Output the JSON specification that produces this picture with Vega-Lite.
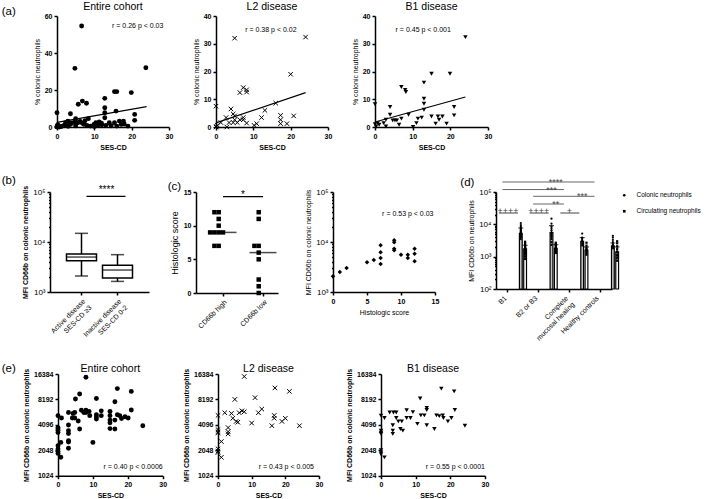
{
 "$schema": "https://vega.github.io/schema/vega-lite/v6.json",
 "padding": {"left": 1, "top": 2, "right": 5, "bottom": 5},
 "autosize": {"type": "pad"},
 "config": {
  "font": "Liberation Sans",
  "view": {"stroke": null},
  "axis": {"grid": false, "domainColor": "black", "domainWidth": 1.5, "tickColor": "black", "tickWidth": 1.5, "tickSize": 3, "tickCount": 40, "labelFontSize": 7, "labelFontWeight": "bold", "labelColor": "black", "labelPadding": 2, "labelOverlap": false, "labelFlush": false, "titleFontSize": 7, "titleFontWeight": "bold", "titleColor": "black", "titlePadding": 4},
  "title": {"fontSize": 10.5, "fontWeight": "normal", "color": "black", "baseline": "alphabetic", "offset": 8, "frame": "group"},
  "legend": {"title": null, "labelFontSize": 6.5, "labelColor": "black", "symbolSize": 7, "symbolFillColor": "black", "symbolStrokeColor": "black", "rowPadding": 6, "offset": 9, "padding": 0, "labelOffset": 9}
 },
 "datasets": {
  "a_all": [{"x":0,"y":7.7},{"x":0,"y":0},{"x":0.3,"y":0.9},{"x":0.6,"y":0},{"x":1.4,"y":0.5},{"x":0,"y":0.3},{"x":0.2,"y":1.2},{"x":1,"y":0.2},{"x":2,"y":1},{"x":2.3,"y":2.3},{"x":2.9,"y":3.2},{"x":3,"y":0.4},{"x":3,"y":2.9},{"x":3.6,"y":7.2},{"x":3.6,"y":1.5},{"x":4,"y":2.2},{"x":4.8,"y":2.7},{"x":5,"y":0.6},{"x":5,"y":4.5},{"x":5.4,"y":2.2},{"x":6,"y":2.7},{"x":6.2,"y":3},{"x":6.8,"y":2},{"x":7.2,"y":1.5},{"x":7.5,"y":3.4},{"x":4.8,"y":31.7},{"x":6.6,"y":54.6},{"x":5.7,"y":12.3},{"x":6.8,"y":14},{"x":7.9,"y":12.8},{"x":8,"y":0.8},{"x":8.4,"y":4.5},{"x":9,"y":0.5},{"x":9.9,"y":1.4},{"x":10,"y":0.3},{"x":10.4,"y":2.3},{"x":11,"y":0.9},{"x":11.3,"y":2.7},{"x":11.9,"y":2},{"x":12,"y":1.2},{"x":12.8,"y":15.5},{"x":12.8,"y":10.4},{"x":12.8,"y":7.7},{"x":12.8,"y":5},{"x":13.1,"y":0.9},{"x":14,"y":2.3},{"x":14.5,"y":0.7},{"x":15.4,"y":19.1},{"x":16,"y":19.1},{"x":15.8,"y":8.6},{"x":15.4,"y":2.3},{"x":16,"y":0.5},{"x":16.7,"y":3.2},{"x":17.8,"y":3.2},{"x":17.2,"y":1.4},{"x":18,"y":1.6},{"x":19,"y":0.5},{"x":19.9,"y":18.6},{"x":20.8,"y":6.8},{"x":20.8,"y":3.6},{"x":23.8,"y":32}],
  "a_l2": [{"x":0,"y":7.5},{"x":0,"y":0},{"x":0.4,"y":0.6},{"x":0.2,"y":0.2},{"x":1.3,"y":1.6},{"x":2.7,"y":3.4},{"x":2.9,"y":0},{"x":3.5,"y":1.6},{"x":4,"y":6.5},{"x":4.6,"y":4.7},{"x":4.6,"y":1.6},{"x":5.7,"y":1.6},{"x":5,"y":32},{"x":24,"y":32.4},{"x":20,"y":19},{"x":7.3,"y":14.2},{"x":8.2,"y":13.4},{"x":8.2,"y":12.6},{"x":6.4,"y":12.4},{"x":16,"y":8.6},{"x":13.1,"y":6},{"x":5,"y":4},{"x":17.3,"y":4.2},{"x":17.3,"y":2.6},{"x":17.3,"y":1.2},{"x":20.8,"y":4},{"x":19,"y":1.2},{"x":12.2,"y":3.4},{"x":10.2,"y":0.6},{"x":10.9,"y":1.2},{"x":7.3,"y":3.4},{"x":7.3,"y":2.6},{"x":8.2,"y":1.4},{"x":5,"y":2.6},{"x":6.4,"y":2.6}],
  "a_b1": [{"x":0,"y":8.2},{"x":0,"y":1},{"x":0.3,"y":0.2},{"x":0.7,"y":1.4},{"x":1.1,"y":0.8},{"x":2.9,"y":2.6},{"x":2.3,"y":1.4},{"x":4,"y":4.4},{"x":4,"y":7.2},{"x":2.9,"y":0.2},{"x":4.7,"y":2.4},{"x":5.3,"y":2.4},{"x":5.8,"y":2.4},{"x":6.4,"y":0.8},{"x":7,"y":3},{"x":7,"y":14.4},{"x":8,"y":13.4},{"x":8.2,"y":12.6},{"x":8.9,"y":4.4},{"x":10.1,"y":0},{"x":11,"y":1.4},{"x":11.4,"y":3},{"x":12.4,"y":3.4},{"x":13,"y":16},{"x":13,"y":10.2},{"x":13,"y":8.4},{"x":13,"y":6.2},{"x":15,"y":19.2},{"x":15,"y":3.8},{"x":16.1,"y":1.2},{"x":16.7,"y":3.8},{"x":17.9,"y":3.8},{"x":17,"y":2.6},{"x":19,"y":1.2},{"x":19.9,"y":19.2},{"x":21,"y":7.2},{"x":21,"y":4.2},{"x":24,"y":32.4}],
  "b_box": [{"grp":"Active disease|SES-CD ≥3","min":2090,"q1":4230,"med":5000,"q3":5750,"max":14900},{"grp":"Inactive disease|SES-CD 0-2","min":1630,"q1":1900,"med":2750,"q3":3410,"max":5580}],
  "c_hist": [{"grp":"CD66b high","score":12},{"grp":"CD66b high","score":12},{"grp":"CD66b high","score":11},{"grp":"CD66b high","score":10},{"grp":"CD66b high","score":9},{"grp":"CD66b high","score":9},{"grp":"CD66b high","score":9},{"grp":"CD66b high","score":9},{"grp":"CD66b high","score":7},{"grp":"CD66b high","score":7},{"grp":"CD66b low","score":12},{"grp":"CD66b low","score":11},{"grp":"CD66b low","score":7},{"grp":"CD66b low","score":7},{"grp":"CD66b low","score":6},{"grp":"CD66b low","score":5},{"grp":"CD66b low","score":2},{"grp":"CD66b low","score":1},{"grp":"CD66b low","score":0}],
  "c_med": [{"grp":"CD66b high","median":9},{"grp":"CD66b low","median":6}],
  "c_mfi": [{"h":0,"m":2060},{"h":1,"m":2510},{"h":2,"m":3020},{"h":5,"m":3920},{"h":6,"m":4360},{"h":7,"m":8580},{"h":7,"m":6210},{"h":7,"m":4790},{"h":7,"m":3630},{"h":9,"m":10800},{"h":9,"m":9850},{"h":9,"m":7360},{"h":9,"m":6810},{"h":10,"m":5580},{"h":11,"m":5580},{"h":11,"m":4790},{"h":12,"m":7360},{"h":12,"m":5840},{"h":12,"m":4100}],
  "d_bars": [{"grp":"B1","type":"Colonic neutrophils","mean":5300,"lo":3900,"hi":7700},{"grp":"B1","type":"Circulating neutrophils","mean":1750,"lo":1300,"hi":2250},{"grp":"B2 or B3","type":"Colonic neutrophils","mean":5600,"lo":3600,"hi":9100},{"grp":"B2 or B3","type":"Circulating neutrophils","mean":1800,"lo":1400,"hi":2350},{"grp":"Complete mucosal healing","type":"Colonic neutrophils","mean":3000,"lo":2300,"hi":3900},{"grp":"Complete mucosal healing","type":"Circulating neutrophils","mean":1600,"lo":1250,"hi":2000},{"grp":"Healthy controls","type":"Colonic neutrophils","mean":2150,"lo":1800,"hi":2650},{"grp":"Healthy controls","type":"Circulating neutrophils","mean":1400,"lo":950,"hi":2000}],
  "d_dots": [
   {"grp":"B1","type":"Colonic neutrophils","v":11000},{"grp":"B1","type":"Colonic neutrophils","v":9500},{"grp":"B1","type":"Colonic neutrophils","v":8700},{"grp":"B1","type":"Colonic neutrophils","v":7800},{"grp":"B1","type":"Colonic neutrophils","v":7200},{"grp":"B1","type":"Colonic neutrophils","v":6700},{"grp":"B1","type":"Colonic neutrophils","v":6300},{"grp":"B1","type":"Colonic neutrophils","v":6000},{"grp":"B1","type":"Colonic neutrophils","v":5700},{"grp":"B1","type":"Colonic neutrophils","v":5500},{"grp":"B1","type":"Colonic neutrophils","v":5100},{"grp":"B1","type":"Colonic neutrophils","v":4700},{"grp":"B1","type":"Colonic neutrophils","v":4300},{"grp":"B1","type":"Colonic neutrophils","v":3900},{"grp":"B1","type":"Colonic neutrophils","v":3500},
   {"grp":"B1","type":"Circulating neutrophils","v":2900},{"grp":"B1","type":"Circulating neutrophils","v":2600},{"grp":"B1","type":"Circulating neutrophils","v":2300},{"grp":"B1","type":"Circulating neutrophils","v":2100},{"grp":"B1","type":"Circulating neutrophils","v":1950},{"grp":"B1","type":"Circulating neutrophils","v":1800},{"grp":"B1","type":"Circulating neutrophils","v":1700},{"grp":"B1","type":"Circulating neutrophils","v":1600},{"grp":"B1","type":"Circulating neutrophils","v":1500},{"grp":"B1","type":"Circulating neutrophils","v":1400},{"grp":"B1","type":"Circulating neutrophils","v":1300},{"grp":"B1","type":"Circulating neutrophils","v":1150},{"grp":"B1","type":"Circulating neutrophils","v":1000},{"grp":"B1","type":"Circulating neutrophils","v":850},
   {"grp":"B2 or B3","type":"Colonic neutrophils","v":15000},{"grp":"B2 or B3","type":"Colonic neutrophils","v":10500},{"grp":"B2 or B3","type":"Colonic neutrophils","v":8500},{"grp":"B2 or B3","type":"Colonic neutrophils","v":7500},{"grp":"B2 or B3","type":"Colonic neutrophils","v":6500},{"grp":"B2 or B3","type":"Colonic neutrophils","v":5500},{"grp":"B2 or B3","type":"Colonic neutrophils","v":4800},{"grp":"B2 or B3","type":"Colonic neutrophils","v":4200},{"grp":"B2 or B3","type":"Colonic neutrophils","v":3500},{"grp":"B2 or B3","type":"Colonic neutrophils","v":2800},{"grp":"B2 or B3","type":"Colonic neutrophils","v":2300},
   {"grp":"B2 or B3","type":"Circulating neutrophils","v":2700},{"grp":"B2 or B3","type":"Circulating neutrophils","v":2500},{"grp":"B2 or B3","type":"Circulating neutrophils","v":2300},{"grp":"B2 or B3","type":"Circulating neutrophils","v":2100},{"grp":"B2 or B3","type":"Circulating neutrophils","v":1900},{"grp":"B2 or B3","type":"Circulating neutrophils","v":1800},{"grp":"B2 or B3","type":"Circulating neutrophils","v":1700},{"grp":"B2 or B3","type":"Circulating neutrophils","v":1550},{"grp":"B2 or B3","type":"Circulating neutrophils","v":1400},{"grp":"B2 or B3","type":"Circulating neutrophils","v":1300},
   {"grp":"Complete mucosal healing","type":"Colonic neutrophils","v":5200},{"grp":"Complete mucosal healing","type":"Colonic neutrophils","v":3900},{"grp":"Complete mucosal healing","type":"Colonic neutrophils","v":3600},{"grp":"Complete mucosal healing","type":"Colonic neutrophils","v":3200},{"grp":"Complete mucosal healing","type":"Colonic neutrophils","v":2900},{"grp":"Complete mucosal healing","type":"Colonic neutrophils","v":2500},{"grp":"Complete mucosal healing","type":"Colonic neutrophils","v":2200},
   {"grp":"Complete mucosal healing","type":"Circulating neutrophils","v":2700},{"grp":"Complete mucosal healing","type":"Circulating neutrophils","v":2200},{"grp":"Complete mucosal healing","type":"Circulating neutrophils","v":1900},{"grp":"Complete mucosal healing","type":"Circulating neutrophils","v":1700},{"grp":"Complete mucosal healing","type":"Circulating neutrophils","v":1500},{"grp":"Complete mucosal healing","type":"Circulating neutrophils","v":1300},{"grp":"Complete mucosal healing","type":"Circulating neutrophils","v":1150},
   {"grp":"Healthy controls","type":"Colonic neutrophils","v":4400},{"grp":"Healthy controls","type":"Colonic neutrophils","v":3900},{"grp":"Healthy controls","type":"Colonic neutrophils","v":3300},{"grp":"Healthy controls","type":"Colonic neutrophils","v":2800},{"grp":"Healthy controls","type":"Colonic neutrophils","v":2400},{"grp":"Healthy controls","type":"Colonic neutrophils","v":2200},{"grp":"Healthy controls","type":"Colonic neutrophils","v":2000},{"grp":"Healthy controls","type":"Colonic neutrophils","v":1800},
   {"grp":"Healthy controls","type":"Circulating neutrophils","v":3000},{"grp":"Healthy controls","type":"Circulating neutrophils","v":2600},{"grp":"Healthy controls","type":"Circulating neutrophils","v":2100},{"grp":"Healthy controls","type":"Circulating neutrophils","v":1700},{"grp":"Healthy controls","type":"Circulating neutrophils","v":1400},{"grp":"Healthy controls","type":"Circulating neutrophils","v":1100},{"grp":"Healthy controls","type":"Circulating neutrophils","v":900},{"grp":"Healthy controls","type":"Circulating neutrophils","v":750}
  ],
  "d_sig": [{"from":"B1","to":"Healthy controls","y":204000,"label":"****","at":"B2 or B3","sub":"Circulating neutrophils"},{"from":"B1","to":"Complete mucosal healing","y":119000,"label":"***","at":"B2 or B3","sub":"Colonic neutrophils"},{"from":"B2 or B3","to":"Healthy controls","y":73600,"label":"***","at":"Complete mucosal healing","sub":"Colonic neutrophils"},{"from":"B2 or B3","to":"Complete mucosal healing","y":42500,"label":"**","at":"B2 or B3","sub":"Circulating neutrophils"}],
  "d_plus": [{"grp":"B1","y":22400,"label":"++++"},{"grp":"B2 or B3","y":22400,"label":"++++"},{"grp":"Complete mucosal healing","y":22400,"label":"+"}],
  "e_all": [{"x":0,"y":5260},{"x":0,"y":3660},{"x":0,"y":3330},{"x":0,"y":3500},{"x":0,"y":3800},{"x":0,"y":2320},{"x":0,"y":2120},{"x":0,"y":1990},{"x":0,"y":1880},{"x":1,"y":4930},{"x":0.8,"y":2540},{"x":0.8,"y":1690},{"x":3,"y":5740},{"x":3,"y":4080},{"x":3,"y":3500},{"x":3,"y":3230},{"x":3,"y":2660},{"x":3,"y":2570},{"x":3,"y":2160},{"x":4.3,"y":5580},{"x":4.8,"y":5740},{"x":4.1,"y":4930},{"x":4.8,"y":4930},{"x":5,"y":8300},{"x":5.8,"y":4550},{"x":6.2,"y":9500},{"x":6.2,"y":3660},{"x":6.7,"y":6100},{"x":7.4,"y":5740},{"x":8,"y":15000},{"x":8,"y":6100},{"x":8,"y":5740},{"x":8.9,"y":5900},{"x":9.1,"y":5260},{"x":10,"y":2540},{"x":11,"y":8400},{"x":11,"y":5400},{"x":11,"y":5080},{"x":11,"y":4800},{"x":12.4,"y":5260},{"x":12.4,"y":6000},{"x":14.9,"y":5900},{"x":14.9,"y":5260},{"x":14.9,"y":4660},{"x":14.9,"y":4340},{"x":14.9,"y":3700},{"x":16.3,"y":4660},{"x":16.3,"y":3660},{"x":16.3,"y":7700},{"x":17,"y":5400},{"x":17,"y":11000},{"x":17.7,"y":5260},{"x":18.2,"y":4870},{"x":19.2,"y":5100},{"x":20.1,"y":4930},{"x":21,"y":10200},{"x":21,"y":6150},{"x":24.3,"y":4000}],
  "e_l2": [{"x":0,"y":5300},{"x":0,"y":3400},{"x":0,"y":3300},{"x":0,"y":3600},{"x":0,"y":2130},{"x":0,"y":1930},{"x":0,"y":2000},{"x":1,"y":1690},{"x":1,"y":2600},{"x":3,"y":3400},{"x":3,"y":3200},{"x":3,"y":3800},{"x":2,"y":5700},{"x":4,"y":5600},{"x":5,"y":8200},{"x":6.3,"y":5700},{"x":5.9,"y":4400},{"x":4.4,"y":4900},{"x":5.4,"y":4500},{"x":7.1,"y":6000},{"x":7.8,"y":5850},{"x":7.8,"y":15300},{"x":10,"y":4300},{"x":11,"y":8600},{"x":12,"y":5700},{"x":13,"y":6300},{"x":16,"y":4000},{"x":16.9,"y":11200},{"x":16.7,"y":5300},{"x":16.7,"y":4900},{"x":19,"y":4500},{"x":20,"y":4900},{"x":21.2,"y":10200},{"x":24.2,"y":4000}],
  "e_b1": [{"x":0,"y":5260},{"x":0,"y":3500},{"x":0,"y":3300},{"x":0,"y":3200},{"x":0,"y":2050},{"x":0,"y":1930},{"x":0,"y":1840},{"x":1,"y":1690},{"x":1,"y":4930},{"x":2.5,"y":5740},{"x":3.6,"y":5740},{"x":3.4,"y":4050},{"x":3.4,"y":3500},{"x":3.4,"y":3200},{"x":4.4,"y":5740},{"x":4.4,"y":4930},{"x":5,"y":4500},{"x":6,"y":4500},{"x":5.6,"y":3660},{"x":6.3,"y":3500},{"x":7.4,"y":6100},{"x":7.4,"y":4930},{"x":8.5,"y":4930},{"x":9.2,"y":5800},{"x":10.5,"y":4200},{"x":11.3,"y":8400},{"x":11.5,"y":5300},{"x":12.5,"y":5300},{"x":13.2,"y":6500},{"x":13.2,"y":6150},{"x":13.2,"y":4050},{"x":15.4,"y":3660},{"x":16,"y":5300},{"x":16.8,"y":5200},{"x":17.8,"y":5300},{"x":17.4,"y":11000},{"x":18,"y":4930},{"x":19.3,"y":4500},{"x":20.3,"y":4930},{"x":21.1,"y":10200},{"x":21.3,"y":6150},{"x":24.2,"y":4000}]
 },
 "spacing": 0,
 "bounds": "full",
 "resolve": {"legend": {"shape": "independent"}},
 "vconcat": [
  {
   "spacing": 0,
   "bounds": "flush",
   "hconcat": [
    {"width": 8, "height": 1, "title": {"text": "(a)", "anchor": "start", "dx": -47.3, "offset": -12, "baseline": "bottom", "fontSize": 11.5}, "data": {"values": []}, "mark": "point", "encoding": {}},
    {
     "width": 112, "height": 111,
     "title": {"text": "Entire cohort", "offset": -0.5},
     "layer": [
      {"data": {"name": "a_all"}, "mark": {"type": "point", "shape": "circle", "filled": true, "color": "black", "opacity": 1, "size": 24},
       "encoding": {"x": {"field": "x", "type": "quantitative", "scale": {"domain": [0, 30], "nice": false}, "axis": {"values": [0, 10, 20, 30], "tickCount": 40, "format": "d", "title": "SES-CD", "zindex": 1}},
                    "y": {"field": "y", "type": "quantitative", "scale": {"domain": [0, 60], "nice": false}, "axis": {"orient": "left", "values": [0, 20, 40, 60], "tickCount": 40, "format": "d", "title": "% colonic neutrophils", "titleFontWeight": "normal", "zindex": 1}}}},
      {"data": {"values": [{"x1": 0, "y1": 2.5, "x2": 24, "y2": 11}]}, "mark": {"type": "rule", "color": "black", "strokeWidth": 1.2},
       "encoding": {"x": {"field": "x1", "type": "quantitative"}, "y": {"field": "y1", "type": "quantitative"}, "x2": {"field": "x2"}, "y2": {"field": "y2"}}},
      {"data": {"values": [{}]}, "mark": {"type": "text", "text": "r = 0.26 p < 0.03", "align": "right", "baseline": "middle", "fontSize": 7}, "encoding": {"x": {"datum": 28.5}, "y": {"datum": 54.4}}}
     ]
    },
    {"width": 47, "height": 157.7, "data": {"values": []}, "mark": "point", "encoding": {}},
    {
     "width": 112, "height": 111,
     "title": {"text": "L2 disease", "offset": -0.5},
     "layer": [
      {"data": {"name": "a_l2"}, "mark": {"type": "point", "shape": "M-1,-1L1,1M-1,1L1,-1", "filled": false, "color": "black", "opacity": 1, "strokeWidth": 1, "size": 20},
       "encoding": {"x": {"field": "x", "type": "quantitative", "scale": {"domain": [0, 30], "nice": false}, "axis": {"values": [0, 10, 20, 30], "tickCount": 40, "format": "d", "title": "SES-CD"}},
                    "y": {"field": "y", "type": "quantitative", "scale": {"domain": [0, 40], "nice": false}, "axis": {"values": [0, 10, 20, 30, 40], "tickCount": 40, "format": "d", "title": "% colonic neutrophils", "titleFontWeight": "normal"}}}},
      {"data": {"values": [{"x1": 0, "y1": 1.5, "x2": 24, "y2": 12.4}]}, "mark": {"type": "rule", "color": "black", "strokeWidth": 1.2},
       "encoding": {"x": {"field": "x1", "type": "quantitative"}, "y": {"field": "y1", "type": "quantitative"}, "x2": {"field": "x2"}, "y2": {"field": "y2"}}},
      {"data": {"values": [{}]}, "mark": {"type": "text", "text": "r = 0.38 p < 0.02", "align": "center", "baseline": "middle", "fontSize": 7}, "encoding": {"x": {"datum": 14.7}, "y": {"datum": 34.8}}}
     ]
    },
    {"width": 47, "height": 1, "data": {"values": []}, "mark": "point", "encoding": {}},
    {
     "width": 113, "height": 111,
     "title": {"text": "B1 disease", "offset": -0.5},
     "layer": [
      {"data": {"name": "a_b1"}, "mark": {"type": "point", "shape": "triangle-down", "filled": true, "color": "black", "opacity": 1, "size": 20},
       "encoding": {"x": {"field": "x", "type": "quantitative", "scale": {"domain": [0, 30], "nice": false}, "axis": {"values": [0, 10, 20, 30], "tickCount": 40, "format": "d", "title": "SES-CD"}},
                    "y": {"field": "y", "type": "quantitative", "scale": {"domain": [0, 40], "nice": false}, "axis": {"values": [0, 10, 20, 30, 40], "tickCount": 40, "format": "d", "title": "% colonic neutrophils", "titleFontWeight": "normal"}}}},
      {"data": {"values": [{"x1": 0, "y1": 1.8, "x2": 24, "y2": 10.8}]}, "mark": {"type": "rule", "color": "black", "strokeWidth": 1.2},
       "encoding": {"x": {"field": "x1", "type": "quantitative"}, "y": {"field": "y1", "type": "quantitative"}, "x2": {"field": "x2"}, "y2": {"field": "y2"}}},
      {"data": {"values": [{}]}, "mark": {"type": "text", "text": "r = 0.45 p < 0.001", "align": "center", "baseline": "middle", "fontSize": 7}, "encoding": {"x": {"datum": 12.8}, "y": {"datum": 34.8}}}
     ]
    }
   ]
  },
  {
   "spacing": 0,
   "bounds": "flush",
   "resolve": {"legend": {"shape": "independent"}},
   "hconcat": [
    {"width": 0.01, "height": 1, "title": {"text": "(b)", "anchor": "start", "dx": -47.3, "offset": -5.4, "baseline": "bottom", "fontSize": 11.5}, "data": {"values": []}, "mark": "point", "encoding": {}},
    {
     "width": 99, "height": 100,
     "data": {"name": "b_box"},
     "encoding": {"x": {"field": "grp", "type": "nominal", "scale": {"domain": ["Active disease|SES-CD ≥3", "Inactive disease|SES-CD 0-2"], "paddingInner": 0.2, "paddingOuter": 0.475}, "axis": {"title": null, "labelAngle": -45, "labelFontWeight": "normal", "labelExpr": "split(datum.value, '|')"}}},
     "layer": [
      {"mark": {"type": "rule", "color": "black", "strokeWidth": 1.5},
       "encoding": {"y": {"field": "min", "type": "quantitative", "scale": {"type": "log", "domain": [1000, 100000], "nice": false},
         "axis": {"title": "MFI CD66b on colonic neutrophils", "labelFontWeight": "normal", "labelFontSize": 8, "tickCount": 40, "values": [1000,2000,3000,4000,5000,6000,7000,8000,9000,10000,20000,30000,40000,50000,60000,70000,80000,90000,100000], "labelExpr": "datum.value == 1000 ? '10³' : datum.value == 10000 ? '10⁴' : datum.value == 100000 ? '10⁵' : ''", "tickSize": {"condition": {"test": "indexof([1000,10000,100000], datum.value) >= 0", "value": 3}, "value": 1.5}}},
        "y2": {"field": "max"}}},
      {"mark": {"type": "bar", "fill": "white", "stroke": "black", "strokeWidth": 1.5, "size": 30}, "encoding": {"y": {"field": "q1", "type": "quantitative"}, "y2": {"field": "q3"}}},
      {"mark": {"type": "tick", "color": "black", "thickness": 1.5, "size": 30}, "encoding": {"y": {"field": "med", "type": "quantitative"}}},
      {"mark": {"type": "tick", "color": "black", "thickness": 1.5, "size": 13}, "encoding": {"y": {"field": "min", "type": "quantitative"}}},
      {"mark": {"type": "tick", "color": "black", "thickness": 1.5, "size": 13}, "encoding": {"y": {"field": "max", "type": "quantitative"}}},
      {"data": {"values": [{"a": "Active disease|SES-CD ≥3", "b": "Inactive disease|SES-CD 0-2", "y": 82000}]}, "mark": {"type": "rule", "color": "black", "strokeWidth": 1.2, "xOffset": 5, "x2Offset": 8},
       "encoding": {"x": {"field": "a", "type": "nominal"}, "x2": {"field": "b"}, "y": {"field": "y", "type": "quantitative"}}},
      {"data": {"values": [{"a": "Active disease|SES-CD ≥3", "y": 82000}]}, "mark": {"type": "text", "text": "****", "fontSize": 10, "baseline": "middle", "dy": -6, "xOffset": 25},
       "encoding": {"x": {"field": "a", "type": "nominal"}, "y": {"field": "y", "type": "quantitative"}}}
     ]
    },
    {"width": 47, "height": 169.6, "title": {"text": "(c)", "anchor": "start", "dx": 18.7, "offset": -11, "baseline": "bottom", "fontSize": 11.5}, "data": {"values": []}, "mark": "point", "encoding": {}},
    {
     "width": 82, "height": 101,
     "layer": [
      {"data": {"name": "c_hist"}, "transform": [{"window": [{"op": "row_number", "as": "rn"}], "groupby": ["grp", "score"]}],
       "mark": {"type": "point", "shape": "square", "filled": true, "color": "black", "opacity": 1, "size": 20},
       "encoding": {"x": {"field": "grp", "type": "nominal", "scale": {"domain": ["CD66b high", "CD66b low"], "paddingInner": 0.25, "paddingOuter": 0.15, "align": 1}, "axis": {"title": null, "labelAngle": -45, "labelFontWeight": "normal"}},
                    "xOffset": {"field": "rn", "type": "nominal", "scale": {"domain": [4, 2, 1, 3, 5]}},
                    "y": {"field": "score", "type": "quantitative", "scale": {"domain": [0, 15], "nice": false}, "axis": {"values": [0, 5, 10, 15], "tickCount": 40, "format": "d", "title": "Histologic score", "titleFontSize": 9, "titleFontWeight": "normal"}}}},
      {"data": {"name": "c_med"}, "mark": {"type": "tick", "color": "black", "thickness": 1.5, "size": 27},
       "encoding": {"x": {"field": "grp", "type": "nominal"}, "y": {"field": "median", "type": "quantitative"}}},
      {"data": {"values": [{"a": "CD66b high", "b": "CD66b low", "y": 14.3}]}, "mark": {"type": "rule", "color": "black", "strokeWidth": 1.2},
       "encoding": {"x": {"field": "a", "type": "nominal"}, "x2": {"field": "b"}, "y": {"field": "y", "type": "quantitative"}}},
      {"data": {"values": [{"a": "CD66b high", "y": 14.3}]}, "mark": {"type": "text", "text": "*", "fontSize": 10, "baseline": "middle", "dy": -2, "xOffset": 20},
       "encoding": {"x": {"field": "a", "type": "nominal"}, "y": {"field": "y", "type": "quantitative"}}}
     ]
    },
    {"width": 55, "height": 1, "data": {"values": []}, "mark": "point", "encoding": {}},
    {
     "width": 102, "height": 100,
     "layer": [
      {"data": {"name": "c_mfi"}, "mark": {"type": "point", "shape": "diamond", "filled": true, "color": "black", "opacity": 1, "size": 20},
       "encoding": {"x": {"field": "h", "type": "quantitative", "scale": {"domain": [0, 15], "nice": false}, "axis": {"values": [0, 5, 10, 15], "tickCount": 40, "format": "d", "title": "Histologic score", "titleFontWeight": "normal"}},
                    "y": {"field": "m", "type": "quantitative", "scale": {"type": "log", "domain": [1000, 100000], "nice": false},
                      "axis": {"title": "MFI CD66b on colonic neutrophils", "titleFontWeight": "normal", "labelFontWeight": "normal", "labelFontSize": 8, "tickCount": 40, "values": [1000,2000,3000,4000,5000,6000,7000,8000,9000,10000,20000,30000,40000,50000,60000,70000,80000,90000,100000], "labelExpr": "datum.value == 1000 ? '10³' : datum.value == 10000 ? '10⁴' : datum.value == 100000 ? '10⁵' : ''", "tickSize": {"condition": {"test": "indexof([1000,10000,100000], datum.value) >= 0", "value": 3}, "value": 1.5}}}}},
      {"data": {"values": [{}]}, "mark": {"type": "text", "text": "r = 0.53 p < 0.03", "align": "center", "baseline": "middle", "fontSize": 7}, "encoding": {"x": {"datum": 11}, "y": {"datum": 36800}}}
     ]
    },
    {"width": 61, "height": 1, "title": {"text": "(d)", "anchor": "start", "dx": 25.3, "offset": -7, "baseline": "bottom", "fontSize": 11.5}, "data": {"values": []}, "mark": "point", "encoding": {}},
    {
     "width": 116, "height": 97,
     "encoding": {"x": {"field": "grp", "type": "nominal", "scale": {"domain": ["B1", "B2 or B3", "Complete mucosal healing", "Healthy controls"], "paddingInner": 0.3, "paddingOuter": 0.04},
                        "axis": {"title": null, "labelAngle": -45, "labelOffset": -5, "labelFontWeight": "normal", "labelExpr": "datum.value == 'Complete mucosal healing' ? ['Complete', 'mucosal healing'] : datum.value"}}},
     "layer": [
      {"data": {"name": "d_bars"}, "mark": {"type": "bar", "stroke": "black", "strokeWidth": 1.2},
       "encoding": {"xOffset": {"field": "type", "type": "nominal", "scale": {"domain": ["Colonic neutrophils", "Circulating neutrophils"], "paddingInner": 0.35, "paddingOuter": 0.17}},
                    "y": {"field": "mean", "type": "quantitative", "scale": {"type": "log", "domain": [100, 100000], "nice": false},
                      "axis": {"title": "MFI CD66b on neutrophils", "titleFontWeight": "normal", "labelFontWeight": "normal", "labelFontSize": 8, "tickCount": 40, "values": [100,200,300,400,500,600,700,800,900,1000,2000,3000,4000,5000,6000,7000,8000,9000,10000,20000,30000,40000,50000,60000,70000,80000,90000,100000], "labelExpr": "datum.value == 100 ? '10²' : datum.value == 1000 ? '10³' : datum.value == 10000 ? '10⁴' : datum.value == 100000 ? '10⁵' : ''", "tickSize": {"condition": {"test": "indexof([100,1000,10000,100000], datum.value) >= 0", "value": 3}, "value": 1.5}}},
                    "y2": {"datum": 100},
                    "fill": {"field": "type", "type": "nominal", "scale": {"domain": ["Colonic neutrophils", "Circulating neutrophils"], "range": ["#c4c4c4", "#ffffff"]}, "legend": null}}},
      {"data": {"name": "d_bars"}, "mark": {"type": "rule", "color": "black", "strokeWidth": 1.2},
       "encoding": {"xOffset": {"field": "type", "type": "nominal"}, "y": {"field": "lo", "type": "quantitative"}, "y2": {"field": "hi"}}},
      {"data": {"name": "d_bars"}, "mark": {"type": "tick", "color": "black", "thickness": 1.2, "size": 5},
       "encoding": {"xOffset": {"field": "type", "type": "nominal"}, "y": {"field": "hi", "type": "quantitative"}}},
      {"data": {"name": "d_dots"}, "mark": {"type": "point", "filled": true, "color": "black", "opacity": 1, "size": 5},
       "encoding": {"xOffset": {"field": "type", "type": "nominal"}, "y": {"field": "v", "type": "quantitative"},
                    "shape": {"field": "type", "type": "nominal", "scale": {"domain": ["Colonic neutrophils", "Circulating neutrophils"], "range": ["circle", "square"]}, "legend": {"title": null, "orient": "right"}}}},
      {"data": {"name": "d_sig"}, "mark": {"type": "rule", "color": "#666666", "strokeWidth": 1, "xOffset": -5.5, "x2Offset": -5.5},
       "encoding": {"x": {"field": "from", "type": "nominal"}, "x2": {"field": "to"}, "y": {"field": "y", "type": "quantitative"}}},
      {"data": {"name": "d_sig"}, "mark": {"type": "text", "fontSize": 9, "baseline": "middle", "dy": 0, "color": "#444444"},
       "encoding": {"x": {"field": "at", "type": "nominal"}, "xOffset": {"field": "sub", "type": "nominal"}, "y": {"field": "y", "type": "quantitative"}, "text": {"field": "label"}}},
      {"data": {"name": "d_plus"}, "mark": {"type": "rule", "color": "#444444", "strokeWidth": 1, "xOffset": -9, "x2Offset": 10},
       "encoding": {"x": {"field": "grp", "type": "nominal"}, "x2": {"field": "grp"}, "y": {"field": "y", "type": "quantitative"}}},
      {"data": {"name": "d_plus"}, "mark": {"type": "text", "fontSize": 9, "baseline": "middle", "dy": -2, "color": "#444444"},
       "encoding": {"x": {"field": "grp", "type": "nominal"}, "y": {"field": "y", "type": "quantitative"}, "text": {"field": "label"}}}
     ]
    }
   ]
  },
  {
   "spacing": 0,
   "bounds": "flush",
   "hconcat": [
    {"width": 9, "height": 1, "title": {"text": "(e)", "anchor": "start", "dx": -47.3, "offset": -11.1, "baseline": "bottom", "fontSize": 11.5}, "data": {"values": []}, "mark": "point", "encoding": {}},
    {
     "width": 104.7, "height": 101.7,
     "title": {"text": "Entire cohort", "offset": -6.5},
     "layer": [
      {"data": {"name": "e_all"}, "mark": {"type": "point", "shape": "circle", "filled": true, "color": "black", "opacity": 1, "size": 24},
       "encoding": {"x": {"field": "x", "type": "quantitative", "scale": {"domain": [0, 30], "nice": false}, "axis": {"values": [0, 10, 20, 30], "tickCount": 40, "format": "d", "title": "SES-CD"}},
                    "y": {"field": "y", "type": "quantitative", "scale": {"type": "log", "base": 2, "domain": [1024, 16384], "nice": false}, "axis": {"values": [1024, 2048, 4096, 8192, 16384], "tickCount": 40, "format": "d", "title": "MFI CD66b on colonic neutrophils"}}}},
      {"data": {"values": [{}]}, "mark": {"type": "text", "text": "r = 0.40 p < 0.0006", "align": "right", "baseline": "middle", "fontSize": 7}, "encoding": {"x": {"datum": 30}, "y": {"datum": 1309}}}
     ]
    },
    {"width": 54.3, "height": 1, "data": {"values": []}, "mark": "point", "encoding": {}},
    {
     "width": 101, "height": 101.7,
     "title": {"text": "L2 disease", "offset": -6.5},
     "layer": [
      {"data": {"name": "e_l2"}, "mark": {"type": "point", "shape": "M-1,-1L1,1M-1,1L1,-1", "filled": false, "color": "black", "opacity": 1, "strokeWidth": 1, "size": 20},
       "encoding": {"x": {"field": "x", "type": "quantitative", "scale": {"domain": [0, 30], "nice": false}, "axis": {"values": [0, 10, 20, 30], "tickCount": 40, "format": "d", "title": "SES-CD"}},
                    "y": {"field": "y", "type": "quantitative", "scale": {"type": "log", "base": 2, "domain": [1024, 16384], "nice": false}, "axis": {"values": [1024, 2048, 4096, 8192, 16384], "tickCount": 40, "format": "d", "title": "MFI CD66b on colonic neutrophils"}}}},
      {"data": {"values": [{}]}, "mark": {"type": "text", "text": "r = 0.43 p < 0.005", "align": "right", "baseline": "middle", "fontSize": 7}, "encoding": {"x": {"datum": 28.5}, "y": {"datum": 1309}}}
     ]
    },
    {"width": 62, "height": 1, "data": {"values": []}, "mark": "point", "encoding": {}},
    {
     "width": 104, "height": 101.7,
     "title": {"text": "B1 disease", "offset": -6.5},
     "layer": [
      {"data": {"name": "e_b1"}, "mark": {"type": "point", "shape": "triangle-down", "filled": true, "color": "black", "opacity": 1, "size": 20},
       "encoding": {"x": {"field": "x", "type": "quantitative", "scale": {"domain": [0, 30], "nice": false}, "axis": {"values": [0, 10, 20, 30], "tickCount": 40, "format": "d", "title": "SES-CD"}},
                    "y": {"field": "y", "type": "quantitative", "scale": {"type": "log", "base": 2, "domain": [1024, 16384], "nice": false}, "axis": {"values": [1024, 2048, 4096, 8192, 16384], "tickCount": 40, "format": "d", "title": "MFI CD66b on colonic neutrophils"}}}},
      {"data": {"values": [{}]}, "mark": {"type": "text", "text": "r = 0.55 p < 0.0001", "align": "right", "baseline": "middle", "fontSize": 7}, "encoding": {"x": {"datum": 30}, "y": {"datum": 1309}}}
     ]
    }
   ]
  }
 ]
}
